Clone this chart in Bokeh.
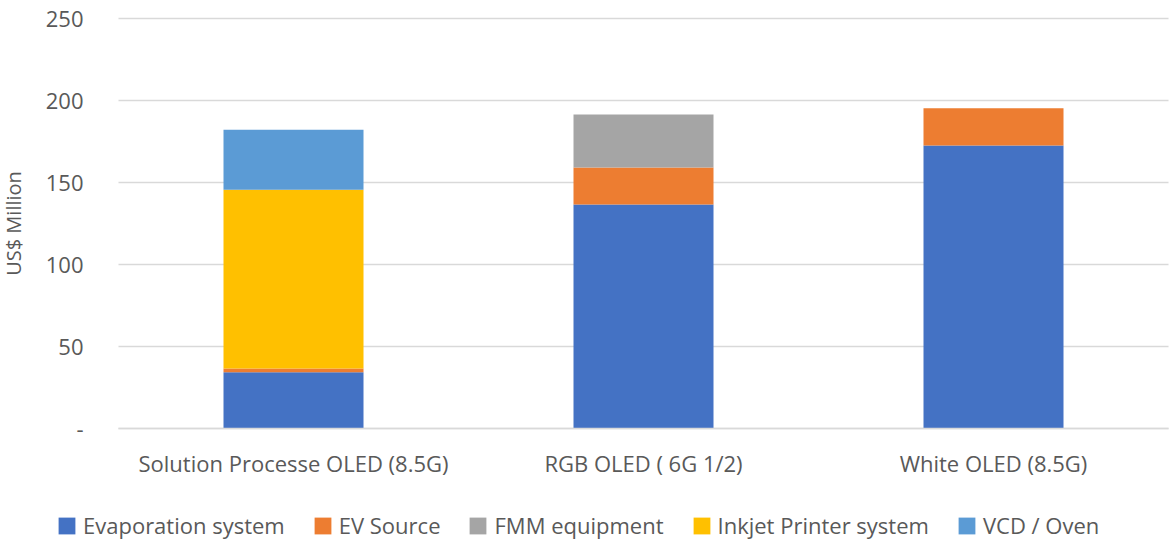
from bokeh.plotting import figure
from bokeh.models import ColumnDataSource, FixedTicker, CustomJSTickFormatter, Legend, LegendItem, Range1d, LinearAxis
from bokeh.embed import file_html
from bokeh.resources import INLINE

categories = ["Solution Processe OLED (8.5G)", "RGB OLED ( 6G 1/2)", "White OLED (8.5G)"]
series = ["Evaporation system", "EV Source", "FMM equipment", "Inkjet Printer system", "VCD / Oven"]
evaporation = [34.3, 136.6, 172.6]
ev_source = [2.3, 22.5, 22.7]
fmm = [0.0, 32.4, 0.0]
inkjet = [109.0, 0.0, 0.0]
vcd_oven = [36.6, 0.0, 0.0]
y_ticks = [0, 50, 100, 150, 200, 250]

colors = ["#4472C4", "#ED7D31", "#A5A5A5", "#FFC000", "#5B9BD5"]
FONT = "Open Sans"
GREY = "#595959"

# layout: plot area from x=118..1168 px, y(250)=18 px .. y(0)=428 px in a 1169x539 canvas
W, H = 1169, 539
LEFT, TOP, BOTTOM = 118, 18, 428
n = len(categories)
px_x = (W - 1 - LEFT) / n
px_y = (BOTTOM - TOP) / 250.0

xpos = [i + 0.5 for i in range(n)]
data = {"x": xpos, series[0]: evaporation, series[1]: ev_source,
        series[2]: fmm, series[3]: inkjet, series[4]: vcd_oven}
src = ColumnDataSource(data)

p = figure(x_range=Range1d(-LEFT / px_x, (W - LEFT) / px_x),
           y_range=Range1d(-(H - BOTTOM) / px_y, 250 + TOP / px_y),
           width=W, height=H, output_backend="svg", toolbar_location=None,
           min_border=0, x_axis_location=None, y_axis_location=None)
p.outline_line_color = None

rs = p.vbar_stack(series, x="x", width=0.4, source=src, color=colors, line_color=None)

yaxis = LinearAxis(fixed_location=0, bounds=(0, 250))
yaxis.ticker = FixedTicker(ticks=y_ticks, minor_ticks=[])
yaxis.formatter = CustomJSTickFormatter(code="return tick == 0 ? '-' : tick.toString();")
yaxis.axis_line_color = None
yaxis.major_tick_line_color = None
yaxis.minor_tick_line_color = None
yaxis.major_label_text_font = FONT
yaxis.major_label_text_font_size = "22px"
yaxis.major_label_text_color = GREY
yaxis.major_label_standoff = 29
yaxis.axis_label = "US$ Million"
yaxis.axis_label_text_font = FONT
yaxis.axis_label_text_font_size = "20px"
yaxis.axis_label_text_font_style = "normal"
yaxis.axis_label_text_color = GREY
yaxis.axis_label_standoff = 16
p.add_layout(yaxis, "left")

xaxis = LinearAxis(fixed_location=0, bounds=(0, n))
xaxis.ticker = FixedTicker(ticks=xpos, minor_ticks=[])
xaxis.major_label_overrides = {x: c for x, c in zip(xpos, categories)}
xaxis.axis_line_color = "#D9D9D9"
xaxis.axis_line_width = 1.5
xaxis.major_tick_line_color = None
xaxis.minor_tick_line_color = None
xaxis.major_label_text_font = FONT
xaxis.major_label_text_font_size = "22px"
xaxis.major_label_text_color = GREY
xaxis.major_label_standoff = 13
p.add_layout(xaxis, "below")

p.xgrid.grid_line_color = None
p.ygrid.ticker = yaxis.ticker
p.ygrid.grid_line_color = "#D9D9D9"
p.ygrid.grid_line_width = 1.5
p.ygrid.cross_bounds = (0, n)

legend = Legend(items=[LegendItem(label=s, renderers=[r]) for s, r in zip(series, rs)],
                orientation="horizontal", location=(56, -1))
legend.label_text_font = FONT
legend.label_text_font_size = "22px"
legend.label_text_color = GREY
legend.glyph_width = 21
legend.glyph_height = 21
legend.label_standoff = 6
legend.spacing = 27
legend.border_line_color = None
legend.background_fill_alpha = 0
legend.padding = 0
legend.margin = 0
p.add_layout(legend, "center")

open("out.html", "w").write(file_html(p, INLINE))
